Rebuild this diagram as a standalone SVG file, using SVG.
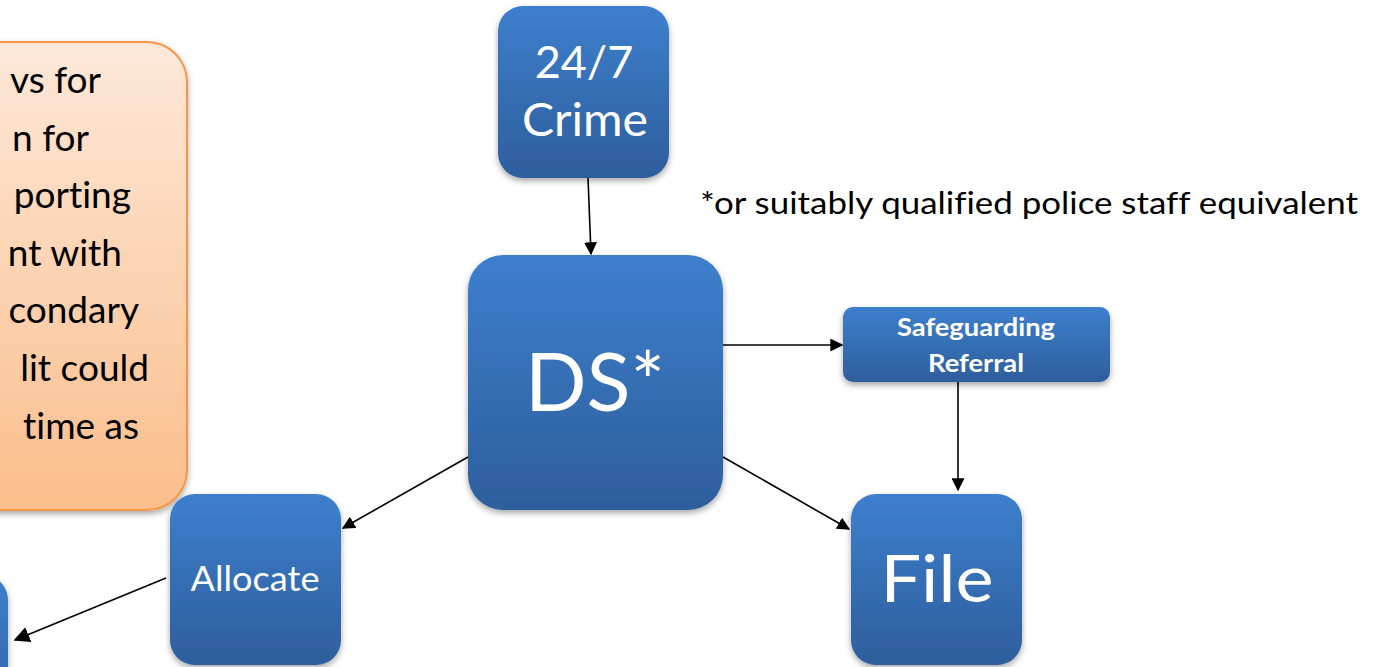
<svg xmlns="http://www.w3.org/2000/svg" width="1377" height="667" viewBox="0 0 1377 667">
<defs>
<linearGradient id="blue" x1="0" y1="0" x2="0" y2="1">
<stop offset="0" stop-color="#3d7fcd"/>
<stop offset="1" stop-color="#2e5e9c"/>
</linearGradient>
<linearGradient id="orange" x1="0" y1="0" x2="0" y2="1">
<stop offset="0" stop-color="#fde8d8"/>
<stop offset="1" stop-color="#fbbe8c"/>
</linearGradient>
<filter id="sh" x="-10%" y="-10%" width="120%" height="125%">
<feDropShadow dx="0" dy="3" stdDeviation="3" flood-color="#000" flood-opacity="0.35"/>
</filter>
<marker id="ah" viewBox="0 0 10 10" refX="9" refY="5" markerWidth="13" markerHeight="13" markerUnits="userSpaceOnUse" orient="auto">
<path d="M0,0 L10,5 L0,10 z" fill="#000"/>
</marker>
<marker id="ahL" viewBox="0 0 10 10" refX="9" refY="5" markerWidth="16" markerHeight="16" markerUnits="userSpaceOnUse" orient="auto">
<path d="M0,0 L10,5 L0,10 z" fill="#000"/>
</marker>
</defs>
<style>
text{font-variant-ligatures:none}
.box{fill:url(#blue);filter:url(#sh)}
.t{fill:#fff;font-family:Lato,"Open Sans","Liberation Sans",sans-serif;text-anchor:middle}
.b{font-weight:bold}
.ot{fill:#000;font-family:Lato,"Open Sans","Liberation Sans",sans-serif;font-size:37px;text-anchor:end}
.c{stroke:#000;stroke-width:1.6;fill:none;marker-end:url(#ah)}
</style>
<rect width="1377" height="667" fill="#fff"/>
<g id="note">
<rect x="-60" y="42" width="247" height="468" rx="40" fill="url(#orange)" stroke="#f79646" stroke-width="2" filter="url(#sh)"/>
<text class="ot" x="101" y="93">vs for</text>
<text class="ot" x="89" y="151">n for</text>
<text class="ot" x="131" y="208">porting</text>
<text class="ot" x="122" y="266">nt with</text>
<text class="ot" x="139" y="323">condary</text>
<text class="ot" x="149" y="381">lit could</text>
<text class="ot" x="139" y="439">time as</text>
</g>
<g id="offscreen-node">
<rect x="-160" y="575" width="168" height="171" rx="25" class="box"/>
</g>
<g id="crime">
<rect x="498" y="6" width="171" height="172" rx="25" class="box"/>
<text class="t" x="584" y="78" font-size="45">24/7</text>
<text class="t" x="585" y="136" font-size="46" textLength="126" lengthAdjust="spacingAndGlyphs">Crime</text>
</g>
<g id="ds">
<rect x="468" y="255" width="255" height="255" rx="35" class="box"/>
<text class="t" x="595" y="411" font-size="82" textLength="140" lengthAdjust="spacingAndGlyphs">DS*</text>
</g>
<g id="safeguarding">
<rect x="843" y="307" width="267" height="75" rx="10" class="box"/>
<text class="t b" x="976" y="336" font-size="24" textLength="158" lengthAdjust="spacingAndGlyphs">Safeguarding</text>
<text class="t b" x="976" y="372" font-size="24" textLength="96" lengthAdjust="spacingAndGlyphs">Referral</text>
</g>
<g id="allocate">
<rect x="170" y="494" width="171" height="171" rx="25" class="box"/>
<text class="t" x="255" y="591" font-size="34" textLength="129" lengthAdjust="spacingAndGlyphs">Allocate</text>
</g>
<g id="file">
<rect x="851" y="494" width="171" height="171" rx="25" class="box"/>
<text class="t" x="937" y="602" font-size="66" textLength="113" lengthAdjust="spacingAndGlyphs">File</text>
</g>
<g id="footnote">
<text x="700" y="214" font-family="Lato,'Open Sans','Liberation Sans',sans-serif" font-size="31" fill="#000" textLength="658" lengthAdjust="spacingAndGlyphs">*or suitably qualified police staff equivalent</text>
</g>
<g id="connectors">
<line class="c" x1="588" y1="178" x2="591" y2="254"/>
<line class="c" x1="723" y1="345" x2="842" y2="345"/>
<line class="c" x1="958" y1="382" x2="958" y2="490"/>
<line class="c" x1="468" y1="457" x2="343" y2="528"/>
<line class="c" x1="723" y1="457" x2="849" y2="529"/>
<line class="c" x1="166" y1="578" x2="15" y2="640" style="marker-end:url(#ahL)"/>
</g>
</svg>
